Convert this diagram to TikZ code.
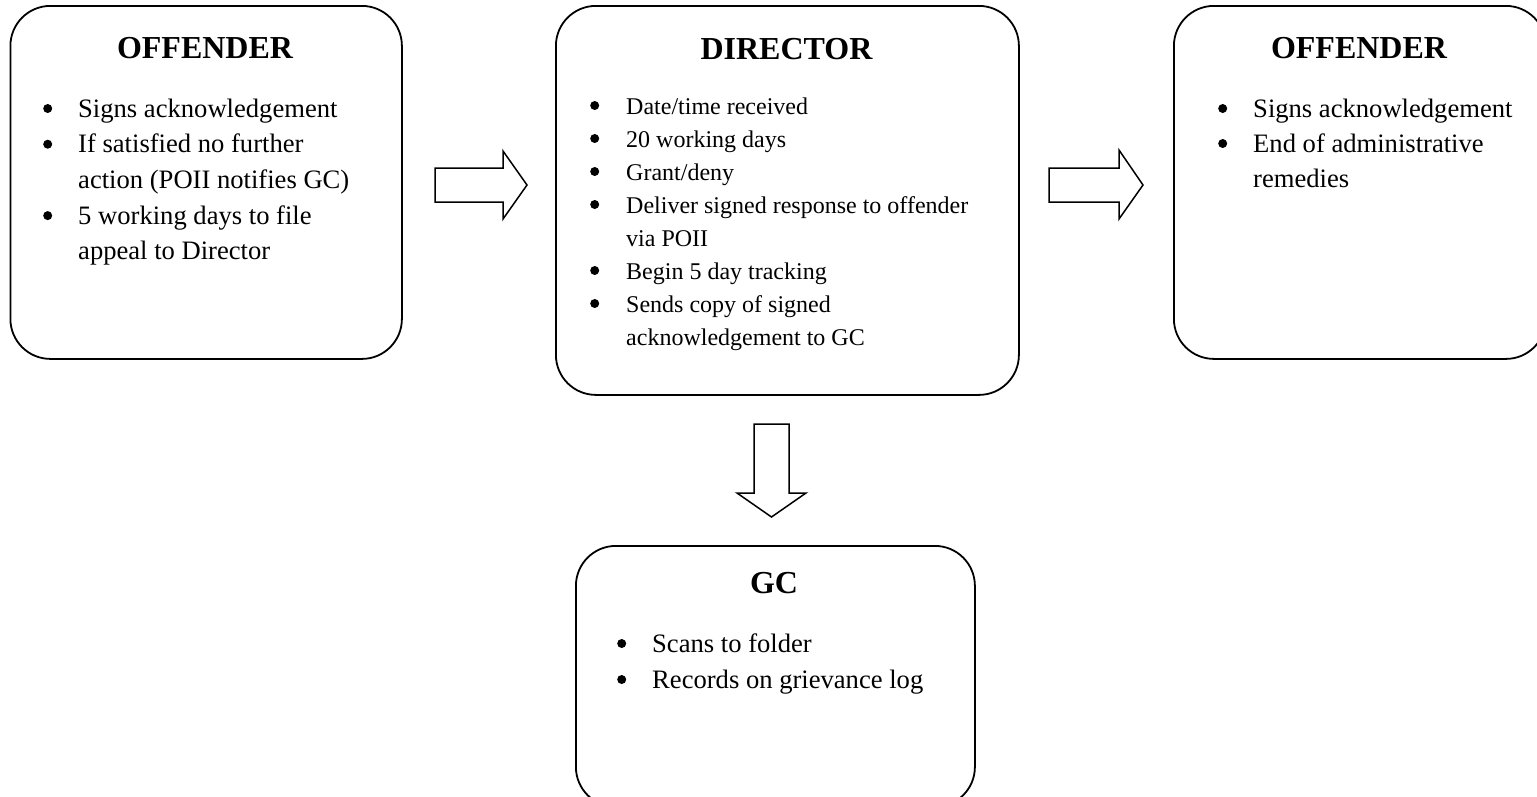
\documentclass[tikz,border=0pt]{standalone}
\usepackage{fontspec}
\setmainfont{Liberation Serif}
\newcommand{\bul}[1]{\makebox[#1][l]{\raisebox{4pt}{\tikz\fill[black] (0pt,0pt) circle (4.5pt);}}}
\tikzset{
  box/.style={draw, line width=1.8pt, rounded corners=40pt, anchor=north west, inner sep=0pt},
  title/.style={font=\bfseries\fontsize{32}{38}\selectfont, anchor=base, inner sep=0pt},
  body/.style={anchor=base west, inner sep=0pt, align=left},
  blockarrow/.style={draw, line width=1.5pt, line join=miter, fill=white}
}
\begin{document}
\begin{tikzpicture}[x=1pt,y=-1pt]
\useasboundingbox[fill=white] (0,0) rectangle (1537,796);

% boxes
\node[box, minimum width=391.5pt, minimum height=353pt] (b1) at (9.5,5) {};
\node[box, minimum width=463pt, minimum height=389pt] (b2) at (555,5) {};
\node[box, minimum width=372pt, minimum height=353pt] (b3) at (1173,5) {};
\node[box, minimum width=399pt, minimum height=261pt] (b4) at (575,545) {};

% titles
\node[title] (t1) at (205,58) {OFFENDER};
\node[title] (t2) at (786.5,59) {DIRECTOR};
\node[title] (t3) at (1359,58) {OFFENDER};
\node[title] (t4) at (774,593) {GC};

% bodies
\node[body, font=\fontsize{26.6}{35.7}\selectfont] (l1) at (43,117) {%
\begin{tabular}[t]{@{}l@{}l@{}}
\bul{35pt} & Signs acknowledgement\\
\bul{35pt} & If satisfied no further\\
 & action (POII notifies GC)\\
\bul{35pt} & 5 working days to file\\
 & appeal to Director
\end{tabular}};

\node[body, font=\fontsize{24}{33}\selectfont] (l2) at (590,114) {%
\begin{tabular}[t]{@{}l@{}l@{}}
\bul{36pt} & Date/time received\\
\bul{36pt} & 20 working days\\
\bul{36pt} & Grant/deny\\
\bul{36pt} & Deliver signed response to offender\\
 & via POII\\
\bul{36pt} & Begin 5 day tracking\\
\bul{36pt} & Sends copy of signed\\
 & acknowledgement to GC
\end{tabular}};

\node[body, font=\fontsize{26.6}{35}\selectfont] (l3) at (1218,117) {%
\begin{tabular}[t]{@{}l@{}l@{}}
\bul{35pt} & Signs acknowledgement\\
\bul{35pt} & End of administrative\\
 & remedies
\end{tabular}};

\node[body, font=\fontsize{26.6}{36}\selectfont] (l4) at (617,652) {%
\begin{tabular}[t]{@{}l@{}l@{}}
\bul{35pt} & Scans to folder\\
\bul{35pt} & Records on grievance log
\end{tabular}};

% block arrows
\draw[blockarrow] (435,168) -- (503,168) -- (503,151) -- (527,185) -- (503,219) -- (503,202) -- (435,202) -- cycle;
\draw[blockarrow] (1049,168) -- (1119,168) -- (1119,150) -- (1143,185) -- (1119,219) -- (1119,202) -- (1049,202) -- cycle;
\draw[blockarrow] (754,424) -- (789,424) -- (789,493) -- (806,493) -- (771.5,517) -- (737,493) -- (754,493) -- cycle;
\end{tikzpicture}
\end{document}
